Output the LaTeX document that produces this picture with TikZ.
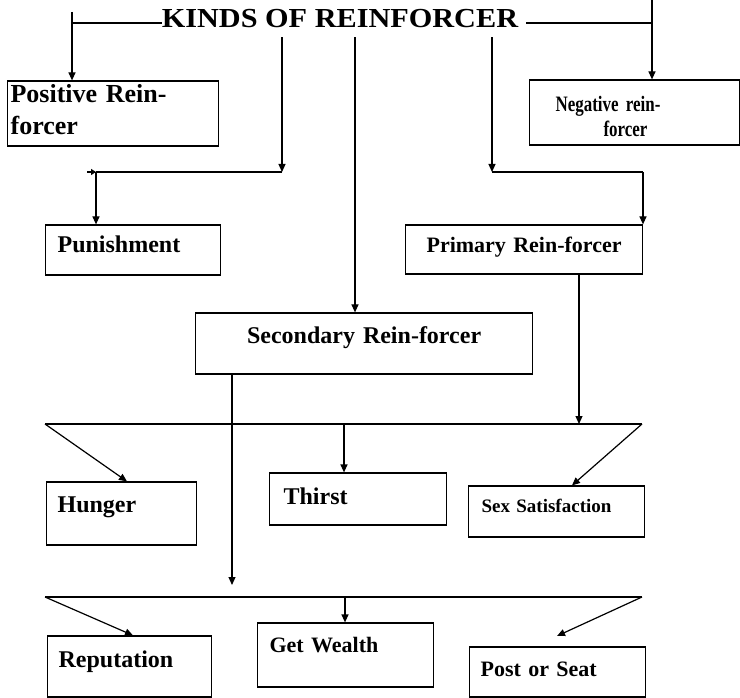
\documentclass[tikz,border=0pt]{standalone}
\usepackage{fontspec}
\setmainfont{Liberation Serif}
\newfontfamily\widef[FakeStretch=1.1]{Liberation Serif Bold}
\newfontfamily\condf[FakeStretch=0.77]{Liberation Serif Bold}
\usetikzlibrary{arrows.meta}
\begin{document}
\begin{tikzpicture}[x=1pt,y=-1pt,
  bx/.style={draw, line width=1.2pt, inner ysep=0pt, anchor=base west, align=left},
  ln/.style={line width=1.2pt},
  arr/.style={line width=1.2pt, -{Triangle[length=8pt,width=7pt]}},
  smallarr/.style={line width=1.2pt, -{Triangle[length=5pt,width=6pt]}},
  ttl/.style={anchor=base, inner sep=0pt, text height=19pt, text depth=9pt,
    font=\widef\fontsize{27.5}{33}\selectfont}]
\useasboundingbox (0,0) rectangle (740,698);

% title
\node[ttl] (title) at (340,28) {KINDS OF REINFORCER};

% boxes
\node[bx, inner xsep=3pt, text width=205pt, text height=22pt, text depth=43pt,
  font=\bfseries\fontsize{26}{32}\selectfont] (pos) at (7,103) {Positive Rein-\\forcer};
\node[bx, inner xsep=0pt, text width=210pt, text height=32pt, text depth=33pt,
  font=\condf\fontsize{22}{25}\selectfont] (neg) at (529,112)
  {\hspace*{26pt}Negative rein-\\\hspace*{74pt}forcer};
\node[bx, inner xsep=12pt, text width=151pt, text height=28pt, text depth=22pt,
  font=\bfseries\fontsize{24}{29}\selectfont] (pun) at (45,253) {Punishment};
\node[bx, inner xsep=0pt, text width=237pt, align=center, text height=28pt, text depth=21pt,
  font=\bfseries\fontsize{22}{26}\selectfont] (prim) at (405,253) {Primary Rein-forcer};
\node[bx, inner xsep=0pt, text width=337pt, align=center, text height=30pt, text depth=31pt,
  font=\bfseries\fontsize{24}{29}\selectfont] (sec) at (195,343) {Secondary Rein-forcer};
\node[bx, inner xsep=11pt, text width=128pt, text height=30pt, text depth=33pt,
  font=\bfseries\fontsize{24}{29}\selectfont] (hun) at (46,512) {Hunger};
\node[bx, inner xsep=14pt, text width=149pt, text height=31pt, text depth=21pt,
  font=\bfseries\fontsize{24}{29}\selectfont] (thi) at (269,504) {Thirst};
\node[bx, inner xsep=13pt, text width=150pt, text height=26pt, text depth=25pt,
  font=\bfseries\fontsize{19}{23}\selectfont] (sex) at (468,512) {Sex Satisfaction};
\node[bx, inner xsep=11pt, text width=142pt, text height=31pt, text depth=30pt,
  font=\bfseries\fontsize{24}{29}\selectfont] (rep) at (47,667) {Reputation};
\node[bx, inner xsep=12pt, text width=152pt, text height=29pt, text depth=35pt,
  font=\bfseries\fontsize{22}{26}\selectfont] (get) at (257,652) {Get Wealth};
\node[bx, inner xsep=11pt, text width=154pt, text height=29pt, text depth=21pt,
  font=\bfseries\fontsize{22}{26}\selectfont] (post) at (469,676) {Post or Seat};

% helper coordinates
\coordinate (tl) at (72,12);
\coordinate (tlc) at (72,23);
\coordinate (tr) at (652,0);
\coordinate (trc) at (652,23);
\coordinate (pj) at (282,172);
\coordinate (pk) at (96,172);
\coordinate (pkk) at (87,172);
\coordinate (qj) at (492,172);
\coordinate (qk) at (643,172);
\coordinate (mx) at (355,0);
\coordinate (px) at (579,0);
\coordinate (ta) at (45,424);
\coordinate (tb) at (642,424);
\coordinate (hx) at (127,0);
\coordinate (thx) at (344,0);
\coordinate (sxx) at (572,0);
\coordinate (sdx) at (232,0);
\coordinate (sx) at (232,585);
\coordinate (ba) at (45,597);
\coordinate (bb) at (642,597);
\coordinate (rx) at (133,0);
\coordinate (gx) at (345,0);
\coordinate (pe) at (557,636);

% connectors
\draw[ln] (title.west) -- (tlc);
\draw[arr] (tl) -- (pos.north -| tl);
\draw[ln] ([xshift=8pt]title.east) -- (trc);
\draw[arr] (tr) -- (neg.north -| tr);

\draw[arr] (title.south -| pj) -- (pj);
\draw[ln] (pj) -- (pk);
\draw[smallarr] (pkk) -- (pk);
\draw[arr] (pk) -- (pun.north -| pk);

\draw[arr] (title.south -| qj) -- (qj);
\draw[ln] (qj) -- (qk);
\draw[arr] (qk) -- (prim.north -| qk);

\draw[arr] (title.south -| mx) -- (sec.north -| mx);

\draw[arr] (prim.south -| px) -- (ta -| px);
\draw[ln] (ta) -- (tb);
\draw[arr] (ta) -- (hun.north -| hx);
\draw[arr] (ta -| thx) -- (thi.north -| thx);
\draw[arr] (tb) -- (sex.north -| sxx);

\draw[arr] (sec.south -| sdx) -- (sx);
\draw[ln] (ba) -- (bb);
\draw[arr] (ba) -- (rep.north -| rx);
\draw[arr] (ba -| gx) -- (get.north -| gx);
\draw[arr] (bb) -- (pe);
\end{tikzpicture}
\end{document}
